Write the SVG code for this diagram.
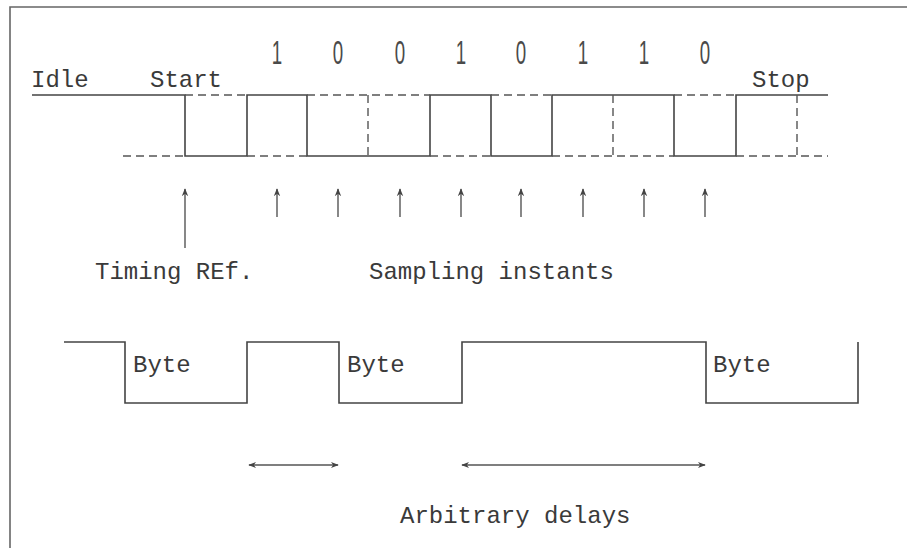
<svg xmlns="http://www.w3.org/2000/svg" width="907" height="548" viewBox="0 0 907 548">
  <style>
    .wave { fill: none; stroke: #444; stroke-width: 1.6; }
    .dash { fill: none; stroke: #555; stroke-width: 1.4; stroke-dasharray: 8 5; }
    .frame { fill: none; stroke: #666; stroke-width: 1.6; }
    .arr { fill: none; stroke: #555; stroke-width: 1.4; }
    .lbl { font-family: "Liberation Mono", "Courier New", monospace; font-size: 24px; fill: #3a3a3a; }
    .bit { font-family: "Liberation Sans", Arial, sans-serif; font-size: 34px; fill: #4a4a4a; text-anchor: middle; }
  </style>
  <defs>
    <marker id="ah" viewBox="0 0 10 10" refX="9" refY="5" markerWidth="8" markerHeight="8" markerUnits="userSpaceOnUse" orient="auto-start-reverse">
      <path d="M0 1 L10 5 L0 9 L3 5 Z" fill="#444"/>
    </marker>
  </defs>
  <rect width="907" height="548" fill="#fff"/>
  <path class="frame" d="M10 548 V7 H907"/>

  <g id="top-waveform">
    <path class="wave" d="M32 95 H185 V156 H247 V95 H307 V156 H430 V95 H491 V156 H552 V95 H674 V156 H736 V95 H828"/>
    <path class="dash" d="M185 95 H247 M307 95 H430 M491 95 H552 M674 95 H736"/>
    <path class="dash" d="M123 156 H185 M247 156 H307 M430 156 H491 M552 156 H674 M736 156 H828"/>
    <path class="dash" d="M368 95 V156 M613 95 V156 M797 95 V156"/>
  </g>

  <g id="bits">
    <text class="bit" transform="translate(277,64) scale(0.55,1)">1</text>
    <text class="bit" transform="translate(338,64) scale(0.55,1)">0</text>
    <text class="bit" transform="translate(400,64) scale(0.55,1)">0</text>
    <text class="bit" transform="translate(461,64) scale(0.55,1)">1</text>
    <text class="bit" transform="translate(521,64) scale(0.55,1)">0</text>
    <text class="bit" transform="translate(583,64) scale(0.55,1)">1</text>
    <text class="bit" transform="translate(644,64) scale(0.55,1)">1</text>
    <text class="bit" transform="translate(705,64) scale(0.55,1)">0</text>
  </g>

  <g id="idle"><text class="lbl" x="31" y="87">Idle</text></g>
  <g id="start"><text class="lbl" x="150" y="87">Start</text></g>
  <g id="stop"><text class="lbl" x="752" y="87">Stop</text></g>

  <g id="connectors">
    <line class="arr" x1="185" y1="248" x2="185" y2="189" marker-end="url(#ah)"/>
    <line class="arr" x1="277" y1="217" x2="277" y2="189" marker-end="url(#ah)"/>
    <line class="arr" x1="338" y1="217" x2="338" y2="189" marker-end="url(#ah)"/>
    <line class="arr" x1="400" y1="217" x2="400" y2="189" marker-end="url(#ah)"/>
    <line class="arr" x1="461" y1="217" x2="461" y2="189" marker-end="url(#ah)"/>
    <line class="arr" x1="521" y1="217" x2="521" y2="189" marker-end="url(#ah)"/>
    <line class="arr" x1="583" y1="217" x2="583" y2="189" marker-end="url(#ah)"/>
    <line class="arr" x1="644" y1="217" x2="644" y2="189" marker-end="url(#ah)"/>
    <line class="arr" x1="705" y1="217" x2="705" y2="189" marker-end="url(#ah)"/>
    <line class="arr" x1="249" y1="465" x2="338" y2="465" marker-start="url(#ah)" marker-end="url(#ah)"/>
    <line class="arr" x1="462" y1="465" x2="705" y2="465" marker-start="url(#ah)" marker-end="url(#ah)"/>
  </g>

  <g id="timing-ref"><text class="lbl" x="95" y="279">Timing REf.</text></g>
  <g id="sampling"><text class="lbl" x="369" y="279">Sampling instants</text></g>

  <g id="bottom-waveform">
    <path class="wave" d="M64 342 H125 V403 H247 V342 H339 V403 H462 V342 H706 V403 H858 V342"/>
  </g>
  <g id="byte1"><text class="lbl" x="133" y="372">Byte</text></g>
  <g id="byte2"><text class="lbl" x="347" y="372">Byte</text></g>
  <g id="byte3"><text class="lbl" x="713" y="372">Byte</text></g>

  <g id="delays"><text class="lbl" x="400" y="523">Arbitrary delays</text></g>
</svg>
